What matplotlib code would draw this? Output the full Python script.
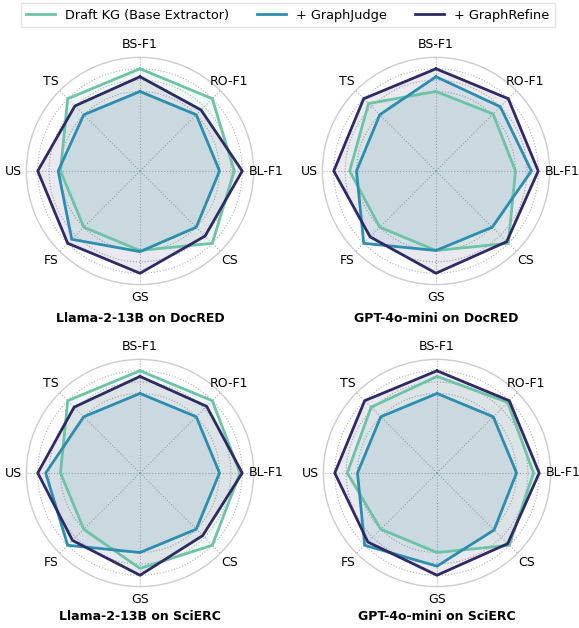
import numpy as np
import matplotlib
matplotlib.use("Agg")
import matplotlib.pyplot as plt
from matplotlib.lines import Line2D

metrics = ["BS-F1", "RO-F1", "BL-F1", "CS", "GS", "FS", "US", "TS"]
series_names = ["Draft KG (Base Extractor)", "+ GraphJudge", "+ GraphRefine"]
colors = ["#6cc3a6", "#2b8db0", "#2d2a66"]
titles = ["Llama-2-13B on DocRED", "GPT-4o-mini on DocRED",
          "Llama-2-13B on SciERC", "GPT-4o-mini on SciERC"]

# normalized scores per metric (order as in `metrics`)
llama_docred_draft = [0.90, 0.90, 0.83, 0.90, 0.70, 0.70, 0.70, 0.90]
llama_docred_judge = [0.70, 0.70, 0.70, 0.70, 0.71, 0.85, 0.72, 0.70]
llama_docred_refine = [0.83, 0.76, 0.90, 0.81, 0.90, 0.90, 0.90, 0.81]

gpt_docred_draft = [0.70, 0.71, 0.70, 0.90, 0.70, 0.70, 0.76, 0.84]
gpt_docred_judge = [0.83, 0.80, 0.84, 0.70, 0.70, 0.90, 0.70, 0.70]
gpt_docred_refine = [0.90, 0.90, 0.90, 0.88, 0.90, 0.82, 0.90, 0.90]

llama_scierc_draft = [0.90, 0.90, 0.88, 0.90, 0.84, 0.70, 0.70, 0.90]
llama_scierc_judge = [0.70, 0.70, 0.70, 0.70, 0.70, 0.90, 0.83, 0.70]
llama_scierc_refine = [0.85, 0.83, 0.90, 0.78, 0.90, 0.84, 0.90, 0.82]

gpt_scierc_draft = [0.85, 0.88, 0.85, 0.90, 0.70, 0.70, 0.79, 0.82]
gpt_scierc_judge = [0.70, 0.70, 0.70, 0.71, 0.82, 0.90, 0.70, 0.70]
gpt_scierc_refine = [0.90, 0.90, 0.90, 0.88, 0.90, 0.86, 0.90, 0.90]

panels = [
    [llama_docred_draft, llama_docred_judge, llama_docred_refine],
    [gpt_docred_draft, gpt_docred_judge, gpt_docred_refine],
    [llama_scierc_draft, llama_scierc_judge, llama_scierc_refine],
    [gpt_scierc_draft, gpt_scierc_judge, gpt_scierc_refine],
]

W, H = 579, 628
fig = plt.figure(figsize=(W / 100, H / 100), dpi=100)

centers = [(140, 171), (436, 171), (140, 473), (437, 473)]
title_y = [318, 617]
R = 113.6

angles = np.linspace(0, 2 * np.pi, len(metrics), endpoint=False)
ang_closed = np.concatenate([angles, angles[:1]])

for i, (cx, cy) in enumerate(centers):
    ax = fig.add_axes([(cx - R) / W, 1 - (cy + R) / H, 2 * R / W, 2 * R / H],
                      projection="polar")
    ax.set_theta_offset(np.pi / 2)
    ax.set_theta_direction(-1)
    ax.set_ylim(0, 1.0)
    ax.set_xticks(angles)
    ax.set_xticklabels([])
    for a, lab in zip(angles, metrics):
        ax.text(a, 1.11, lab, ha="center", va="center", fontsize=9,
                clip_on=False)
    ax.set_yticks([0.7, 0.8, 0.9])
    ax.set_yticklabels([])
    ax.grid(True, color="#b0b0b0", linestyle=":", linewidth=0.8)
    ax.spines["polar"].set_color("#cccccc")
    ax.spines["polar"].set_linewidth(1.0)
    ax.set_facecolor("white")
    for vals, col in zip(panels[i], colors):
        v = np.concatenate([vals, vals[:1]])
        ax.fill(ang_closed, v, color=col, alpha=0.1, zorder=2)
        ax.plot(ang_closed, v, color=col, linewidth=2, zorder=3)
    ty = title_y[i // 2]
    fig.text(cx / W, 1 - ty / H, titles[i], ha="center", va="center",
             fontsize=9, fontweight="bold")

handles = [Line2D([0], [0], color=c, linewidth=2) for c in colors]
fig.legend(handles, series_names, loc="center", bbox_to_anchor=(0.497, 1 - 15 / H),
           ncol=3, fontsize=9.3, frameon=True, handlelength=2.2, columnspacing=2.2,
           handletextpad=0.8, borderpad=0.4, fancybox=False, edgecolor="#dddddd")

fig.savefig("out.png", dpi=100)
